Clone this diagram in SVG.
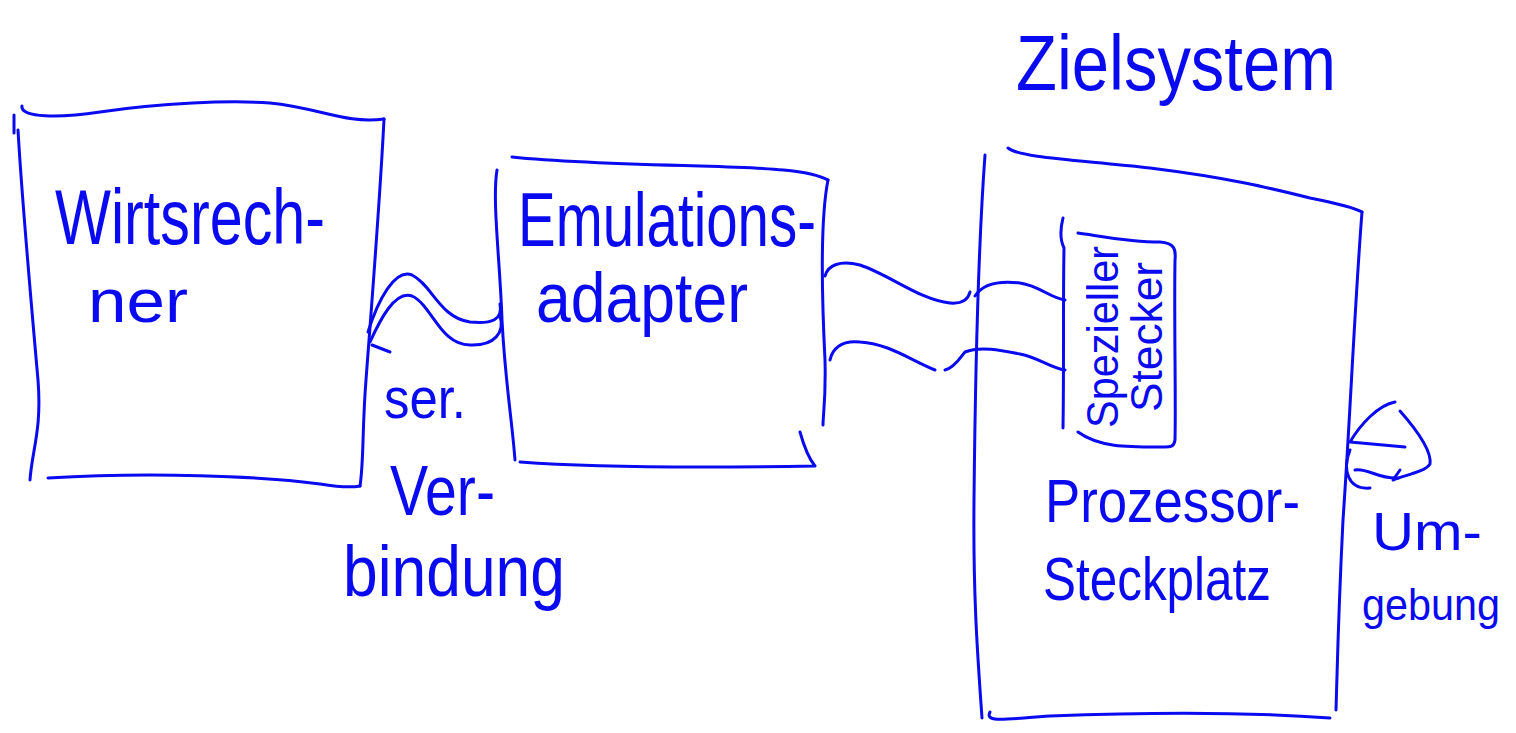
<svg xmlns="http://www.w3.org/2000/svg" width="1516" height="733" viewBox="0 0 1516 733">
<style>
.s{fill:none;stroke:#0a0af0;stroke-width:3;stroke-linecap:round;stroke-linejoin:round}
.t{fill:#0a0af0;font-family:"Liberation Sans",Arial,sans-serif;}
</style>
<rect width="1516" height="733" fill="#fff"/>
<g id="wirtsrechner">
<path class="s" d="M22,106 C20,118 60,118 100,112 C160,103 230,100 270,103 C320,108 345,124 384,119"/>
<path class="s" d="M14,115 L14,133"/>
<path class="s" d="M18,130 C22,200 30,290 38,380 C42,430 32,450 30,480"/>
<path class="s" d="M384,119 C380,200 372,300 366,380 C362,430 364,460 360,486"/>
<path class="s" d="M48,478 C150,472 260,476 320,484 C345,488 355,487 360,486"/>
<text class="t" x="55" y="244" font-size="78" textLength="270" lengthAdjust="spacingAndGlyphs">Wirtsrech-</text>
<text class="t" x="88" y="322" font-size="62" textLength="100" lengthAdjust="spacingAndGlyphs">ner</text>
</g>
<g id="emulationsadapter">
<path class="s" d="M512,157 C560,162 620,164 700,166 C770,168 810,170 828,180"/>
<path class="s" d="M497,170 C492,200 500,260 502,320 C505,380 512,420 515,460"/>
<path class="s" d="M828,180 C820,220 822,300 825,360 C826,400 823,415 823,425"/>
<path class="s" d="M520,462 C600,468 700,468 815,466 M800,432 C805,450 810,460 815,466"/>
<text class="t" x="518" y="246" font-size="76" textLength="298" lengthAdjust="spacingAndGlyphs">Emulations-</text>
<text class="t" x="536" y="322" font-size="70" textLength="212" lengthAdjust="spacingAndGlyphs">adapter</text>
</g>
<g id="zielsystem">
<path class="s" d="M1008,148 C1020,158 1080,160 1150,168 C1230,178 1270,188 1310,198 C1340,204 1355,208 1362,212"/>
<path class="s" d="M985,155 C978,250 975,400 974,500 C973,600 978,660 982,718"/>
<path class="s" d="M1362,212 C1355,300 1350,420 1343,520 C1338,620 1337,680 1336,710"/>
<path class="s" d="M990,712 C985,722 1000,720 1050,716 C1150,712 1250,712 1330,718"/>
<text class="t" x="1016" y="90" font-size="78" textLength="320" lengthAdjust="spacingAndGlyphs">Zielsystem</text>
<text class="t" x="1045" y="522" font-size="62" textLength="255" lengthAdjust="spacingAndGlyphs">Prozessor-</text>
<text class="t" x="1043" y="600" font-size="62" textLength="228" lengthAdjust="spacingAndGlyphs">Steckplatz</text>
</g>
<g id="stecker">
<path class="s" d="M1063,218 C1060,230 1060,240 1064,248 C1063,300 1064,370 1063,428"/>
<path class="s" d="M1078,233 C1100,236 1130,242 1160,242 C1175,243 1176,250 1175,260 C1174,320 1176,400 1175,440 C1174,447 1170,447 1165,447 C1130,447 1100,448 1078,432"/>
<text class="t" font-size="44" transform="translate(1118,428) rotate(-90)" textLength="182" lengthAdjust="spacingAndGlyphs">Spezieller</text>
<text class="t" font-size="44" transform="translate(1162,412) rotate(-90)" textLength="150" lengthAdjust="spacingAndGlyphs">Stecker</text>
</g>
<g id="connectors">
<path class="s" d="M368,332 C378,300 395,268 412,275 C432,285 440,318 470,322 C492,324 503,320 500,304"/>
<path class="s" d="M370,342 C380,320 395,290 412,296 C432,305 440,345 470,345 C495,346 505,332 500,316"/>
<path class="s" d="M372,345 L390,352"/>
<path class="s" d="M825,276 C828,265 840,260 860,265 C890,275 920,300 950,303 C962,304 968,300 970,292"/>
<path class="s" d="M975,296 C982,285 995,280 1020,283 C1040,286 1050,298 1065,300"/>
<path class="s" d="M830,360 C832,350 840,340 860,342 C890,344 910,360 935,370"/>
<path class="s" d="M945,370 C955,368 962,355 965,352 C980,346 1000,350 1020,354 C1040,358 1050,368 1065,370"/>
</g>
<g id="umgebung">
<path class="s" d="M1395,402 C1378,405 1360,425 1350,442 L1405,447"/>
<path class="s" d="M1400,411 C1415,428 1432,450 1430,464 C1425,472 1405,475 1393,480 L1400,470"/>
<path class="s" d="M1355,470 C1368,468 1378,479 1398,478"/>
<path class="s" d="M1350,450 C1342,470 1348,490 1370,488"/>
<text class="t" x="1372" y="550" font-size="54" textLength="110" lengthAdjust="spacingAndGlyphs">Um-</text>
<text class="t" x="1362" y="620" font-size="44" textLength="138" lengthAdjust="spacingAndGlyphs">gebung</text>
</g>
<g id="serielle-verbindung">
<text class="t" x="384" y="418" font-size="58" textLength="82" lengthAdjust="spacingAndGlyphs">ser.</text>
<text class="t" x="390" y="515" font-size="70" textLength="105" lengthAdjust="spacingAndGlyphs">Ver-</text>
<text class="t" x="343" y="596" font-size="72" textLength="222" lengthAdjust="spacingAndGlyphs">bindung</text>
</g>
</svg>
